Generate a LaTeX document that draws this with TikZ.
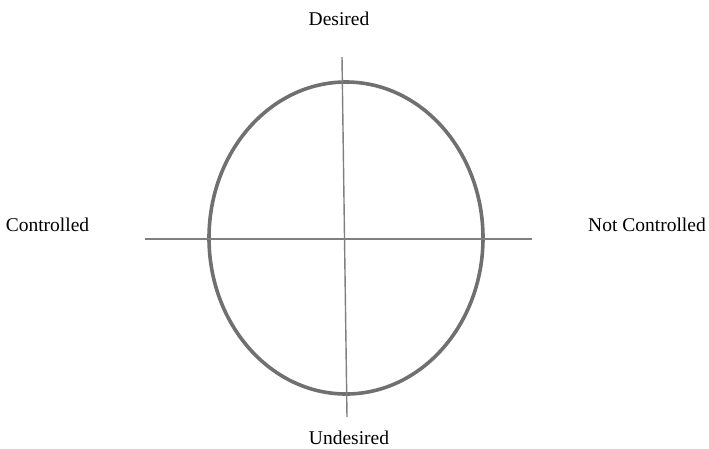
\documentclass[tikz,border=0pt]{standalone}
\usepackage{fontspec}
\setmainfont{Liberation Serif}
\usepackage{xcolor}
\usetikzlibrary{positioning}
\definecolor{ringGray}{HTML}{707070}
\definecolor{axisGray}{HTML}{808080}

\begin{document}
\begin{tikzpicture}[x=1pt,y=-1pt,
    ring/.style={draw=ringGray,line width=3.6pt},
    axis/.style={draw=axisGray,line width=1.4pt},
    pole/.style={inner sep=0pt,font=\fontsize{19.5}{23}\selectfont}]
    \useasboundingbox (0,0) rectangle (709,448);
    \node[pole] (desired) at (339,19) {Desired};
    \node[pole] (undesired) at (349,438) {Undesired};
    \node[pole] (ctrl) at (47.5,225) {Controlled};
    \node[pole] (notctrl) at (647,225) {Not Controlled};
    \coordinate (top) at (342,57);
    \coordinate (bottom) at (347,417);
    \coordinate (left) at (145,239);
    \coordinate (right) at (532,239);
    \draw[ring] (346,238) ellipse (137 and 156);
    \draw[axis] (top)--(bottom);
    \draw[axis] (left)--(right);
\end{tikzpicture}
\end{document}
